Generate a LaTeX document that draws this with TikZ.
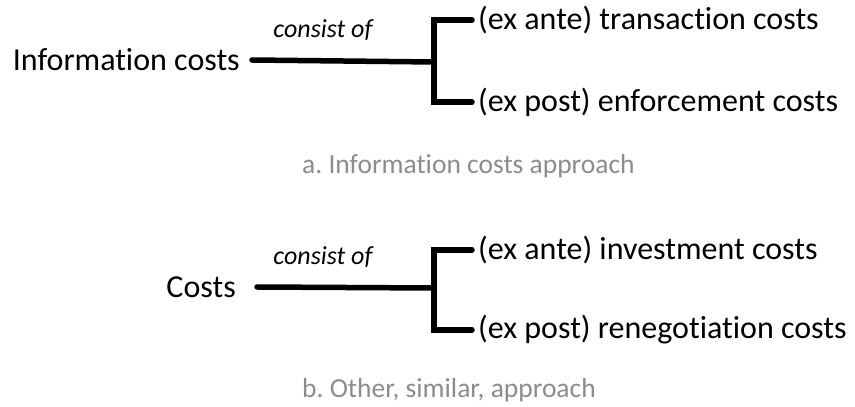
\documentclass[tikz,border=0pt]{standalone}
\usepackage{fontspec}
\setmainfont[Ligatures={NoCommon,NoRare}]{Carlito}
\usetikzlibrary{positioning}
\definecolor{LineColor}{RGB}{0,0,0}
\definecolor{CaptionColor}{RGB}{140,140,140}
\tikzstyle{branch} = [line width=5.5pt, LineColor, line cap=round]
\tikzstyle{term} = [inner sep=0pt, font=\fontsize{32}{38}\selectfont]
\tikzstyle{relation} = [inner sep=0pt, font=\fontsize{26}{31}\selectfont\itshape]
\tikzstyle{caption} = [inner sep=0pt, anchor=west, text=CaptionColor, font=\fontsize{27.5}{32}\selectfont]
\frenchspacing

\begin{document}
\begin{tikzpicture}[x=1pt, y=1pt]
    \useasboundingbox (0,0) rectangle (855,407);

    % a. Information costs approach
    \node[term, anchor=east] (info) at (240,347) {Information costs};
    \node[term, anchor=west] (ante) at (478,387) {(ex ante) transaction costs};
    \node[term, anchor=west] (post) at (478,305) {(ex post) enforcement costs};
    \coordinate (fork) at (434,345);
    \node[relation] (consistA) at (323,377) {consist of};
    \draw[branch] ([xshift=12pt]info.east) -- (fork);
    \draw[branch] ([xshift=-6pt]ante.west) -| (fork) |- ([xshift=-6pt]post.west);
    \node[caption] (capA) at (302,241) {a. Information costs approach};

    % b. Other, similar, approach
    \node[term, anchor=east] (costs) at (236,120) {Costs};
    \node[term, anchor=west] (invest) at (478,157) {(ex ante) investment costs};
    \node[term, anchor=west] (reneg) at (478,77) {(ex post) renegotiation costs};
    \coordinate (forkB) at (434,119);
    \node[relation] (consistB) at (323,150) {consist of};
    \draw[branch] ([xshift=21pt]costs.east) -- (forkB);
    \draw[branch] ([xshift=-6pt]invest.west) -| (forkB) |- ([xshift=-6pt]reneg.west);
    \node[caption] (capB) at (302,17) {b. Other, similar, approach};
\end{tikzpicture}
\end{document}
